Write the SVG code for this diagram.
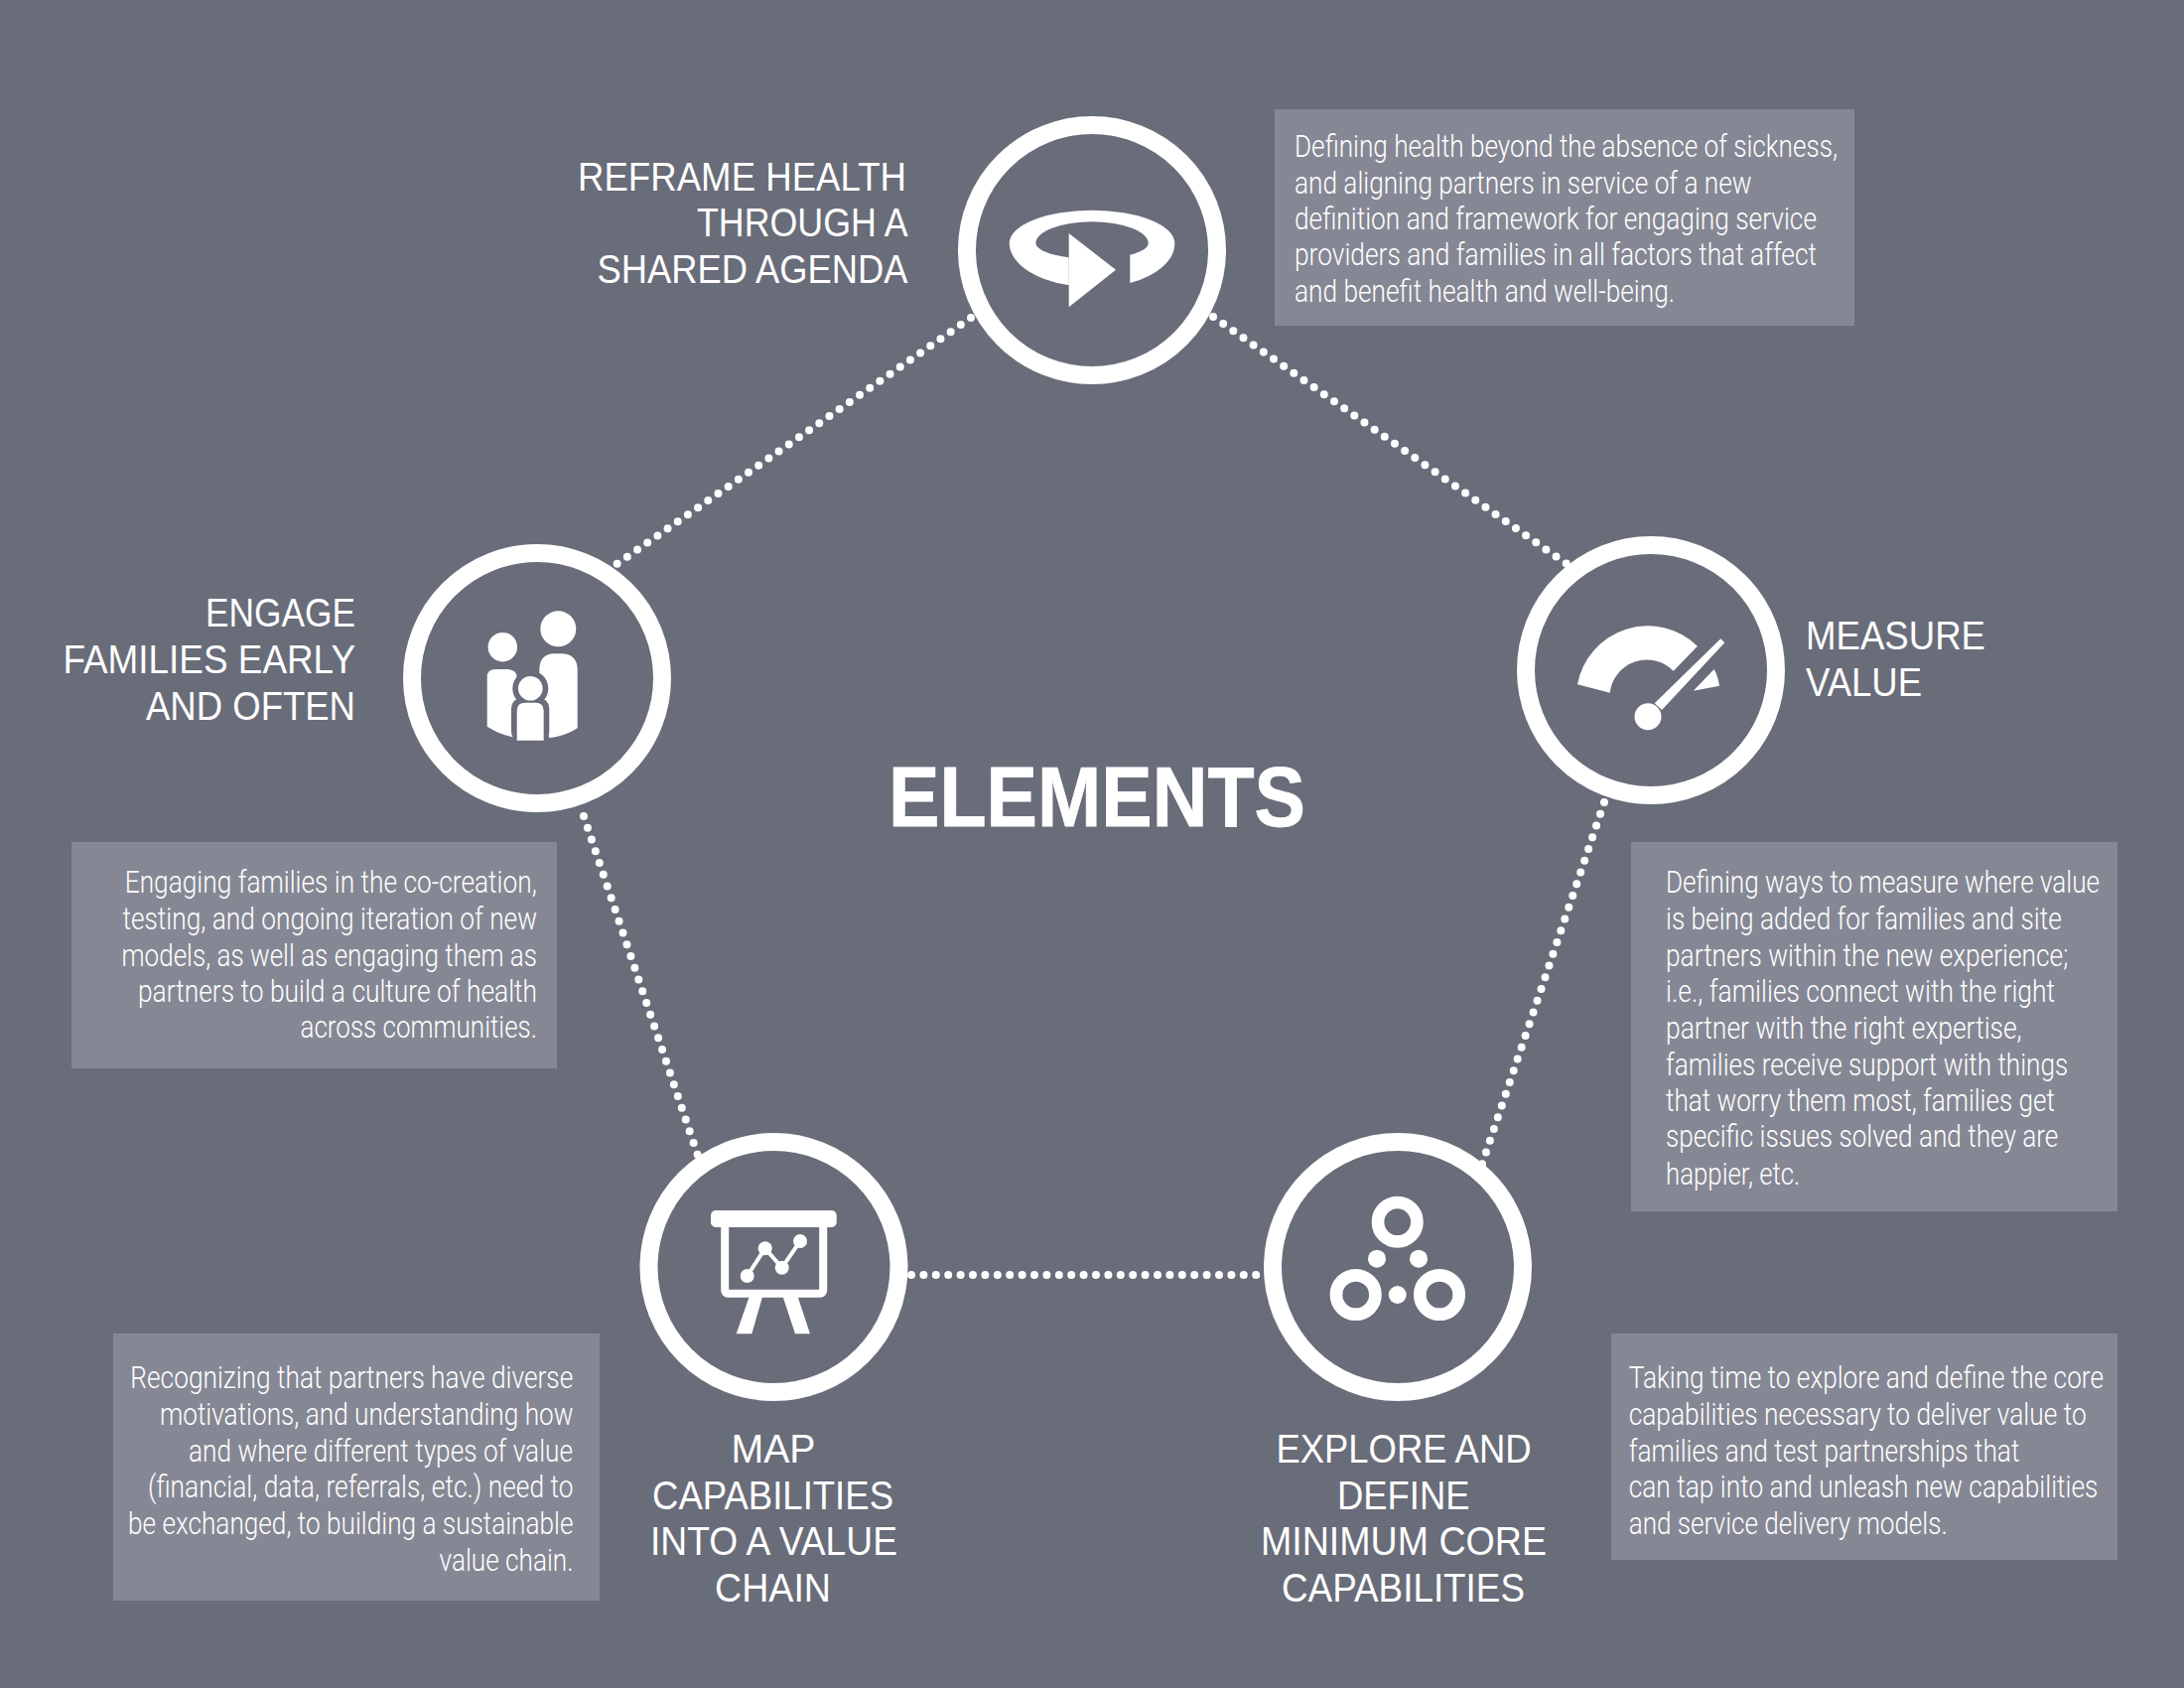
<svg xmlns="http://www.w3.org/2000/svg" width="2200" height="1700" viewBox="0 0 2200 1700">
<style>
.bg{fill:#696c79}
.box{fill:#858894}
.ring{fill:none;stroke:#fff;stroke-width:18}
.ic{fill:#fff}
.dot{fill:none;stroke:#fff;stroke-width:8;stroke-linecap:round;stroke-dasharray:0 12.4}
.b{font-family:Roboto,"Liberation Sans",sans-serif;font-weight:300;font-size:31px;fill:#fff}
.l{font-family:"Liberation Sans",Arial,sans-serif;font-size:40.5px;fill:#fff}
.t{font-family:"Liberation Sans",Arial,sans-serif;font-weight:700;font-size:86px;fill:#fff;stroke:#fff;stroke-width:.8}
</style>
<rect class="bg" width="2200" height="1700"/>
<g id="connectors">
<path class="dot" d="M978 320L617 571"/>
<path class="dot" d="M1222 319L1584 572"/>
<path class="dot" d="M1616 808L1490 1181"/>
<path class="dot" d="M588 822L706 1173"/>
<path class="dot" d="M918 1284H1278"/>
</g>
<text id="title" class="t" x="895" y="832" textLength="420" lengthAdjust="spacingAndGlyphs">ELEMENTS</text>
<g id="node-reframe">
<circle class="ring" cx="1100" cy="252" r="126"/>
<path class="ic" d="M1076.7 287.3A83.3 44.5 0 0 1 1016.7 245A83.3 33.3 0 0 1 1183.3 245A83.3 44.5 0 0 1 1138.3 285V256.7A56.7 16 0 0 0 1156.7 245A56.7 21.7 0 0 0 1043.3 245A56.7 16 0 0 0 1076.7 259.3Z"/>
<polygon class="ic" points="1076.7,235 1124,271.7 1076.7,309.3"/>
<text class="l" x="582" y="192" textLength="331" lengthAdjust="spacingAndGlyphs">REFRAME HEALTH</text>
<text class="l" x="702" y="238" textLength="212.7" lengthAdjust="spacingAndGlyphs">THROUGH A</text>
<text class="l" x="601.5" y="285" textLength="313" lengthAdjust="spacingAndGlyphs">SHARED AGENDA</text>
<rect class="box" x="1284" y="110" width="584" height="218"/>
<text class="b" x="1304" y="158" textLength="547" lengthAdjust="spacingAndGlyphs">Defining health beyond the absence of sickness,</text>
<text class="b" x="1304" y="195" textLength="460.5" lengthAdjust="spacingAndGlyphs">and aligning partners in service of a new</text>
<text class="b" x="1304" y="231" textLength="526" lengthAdjust="spacingAndGlyphs">definition and framework for engaging service</text>
<text class="b" x="1304" y="267" textLength="526" lengthAdjust="spacingAndGlyphs">providers and families in all factors that affect</text>
<text class="b" x="1304" y="304" textLength="383" lengthAdjust="spacingAndGlyphs">and benefit health and well-being.</text>
</g>
<g id="node-engage">
<circle class="ring" cx="541" cy="683" r="126"/>
<circle class="ic" cx="506.3" cy="651.7" r="14.7"/>
<circle class="ic" cx="562.3" cy="633.3" r="18"/>
<path class="ic" d="M490.7 731.7V682Q490.7 674 499 674H512Q520.7 675 520.7 682V743.3Q503 740 490.7 731.7Z"/>
<path class="ic" d="M581.7 733.3V675Q581.7 658.3 565 658.3H556Q543.3 660 543.3 675V700L553.3 743.3Q570 741 581.7 733.3Z"/>
<circle class="bg" cx="534.3" cy="693.3" r="18"/>
<rect class="bg" x="515" y="703" width="38.3" height="44" rx="10"/>
<circle class="ic" cx="534.3" cy="693.3" r="12.3"/>
<path class="ic" d="M520.7 745.7V716Q520.7 707.7 529 707.7H539.5Q547.7 707.7 547.7 716V745.7Z"/>
<text class="l" x="207" y="631" textLength="151" lengthAdjust="spacingAndGlyphs">ENGAGE</text>
<text class="l" x="63.5" y="678" textLength="294.5" lengthAdjust="spacingAndGlyphs">FAMILIES EARLY</text>
<text class="l" x="147" y="725" textLength="211" lengthAdjust="spacingAndGlyphs">AND OFTEN</text>
<rect class="box" x="72" y="848" width="489" height="228"/>
<text class="b" x="125.7" y="899" textLength="415" lengthAdjust="spacingAndGlyphs">Engaging families in the co-creation,</text>
<text class="b" x="123.5" y="936" textLength="417.5" lengthAdjust="spacingAndGlyphs">testing, and ongoing iteration of new</text>
<text class="b" x="122.5" y="973" textLength="418.5" lengthAdjust="spacingAndGlyphs">models, as well as engaging them as</text>
<text class="b" x="139" y="1009" textLength="402" lengthAdjust="spacingAndGlyphs">partners to build a culture of health</text>
<text class="b" x="302.5" y="1045" textLength="238.5" lengthAdjust="spacingAndGlyphs">across communities.</text>
</g>
<g id="node-measure">
<circle class="ring" cx="1663" cy="675" r="126"/>
<path class="ic" d="M1589 689.3A72 72 0 0 1 1710 650.7L1685.7 675.7A37.5 37.5 0 0 0 1621.7 697.7Z"/>
<path class="ic" d="M1705.7 695.7L1726.7 674Q1730.5 681 1732 690.7Z"/>
<circle class="ic" cx="1660" cy="721.7" r="13.5"/>
<polygon class="ic" points="1733.3,643.3 1737.3,647.3 1674,715 1666.7,708.3"/>
<text class="l" x="1819" y="654" textLength="181" lengthAdjust="spacingAndGlyphs">MEASURE</text>
<text class="l" x="1819" y="701" textLength="117" lengthAdjust="spacingAndGlyphs">VALUE</text>
<rect class="box" x="1643" y="848" width="490" height="372"/>
<text class="b" x="1678" y="899" textLength="437" lengthAdjust="spacingAndGlyphs">Defining ways to measure where value</text>
<text class="b" x="1678" y="936" textLength="398.7" lengthAdjust="spacingAndGlyphs">is being added for families and site</text>
<text class="b" x="1678" y="973" textLength="405.3" lengthAdjust="spacingAndGlyphs">partners within the new experience;</text>
<text class="b" x="1678" y="1009" textLength="392" lengthAdjust="spacingAndGlyphs">i.e., families connect with the right</text>
<text class="b" x="1678" y="1046" textLength="358.7" lengthAdjust="spacingAndGlyphs">partner with the right expertise,</text>
<text class="b" x="1678" y="1083" textLength="405.3" lengthAdjust="spacingAndGlyphs">families receive support with things</text>
<text class="b" x="1678" y="1119" textLength="392" lengthAdjust="spacingAndGlyphs">that worry them most, families get</text>
<text class="b" x="1678" y="1155" textLength="395.3" lengthAdjust="spacingAndGlyphs">specific issues solved and they are</text>
<text class="b" x="1678" y="1193" textLength="135.3" lengthAdjust="spacingAndGlyphs">happier, etc.</text>
</g>
<g id="node-map">
<circle class="ring" cx="779.5" cy="1276" r="126"/>
<rect class="ic" x="716" y="1219" width="126.7" height="17" rx="5"/>
<rect x="730.2" y="1232" width="99" height="70.7" rx="3" fill="none" stroke="#fff" stroke-width="8"/>
<polygon class="ic" points="755,1305 768.3,1305 757.3,1343.3 741.7,1343.3"/>
<polygon class="ic" points="788.3,1305 803.3,1305 816,1343.3 801,1343.3"/>
<path d="M752.7 1285L770.7 1257.3L787.7 1276.7L806 1250" fill="none" stroke="#fff" stroke-width="4"/>
<circle class="ic" cx="752.7" cy="1285" r="7"/>
<circle class="ic" cx="770.7" cy="1257.3" r="7"/>
<circle class="ic" cx="787.7" cy="1276.7" r="7"/>
<circle class="ic" cx="806" cy="1250" r="7"/>
<text class="l" x="736.5" y="1473" textLength="85" lengthAdjust="spacingAndGlyphs">MAP</text>
<text class="l" x="657" y="1520" textLength="243" lengthAdjust="spacingAndGlyphs">CAPABILITIES</text>
<text class="l" x="655" y="1566" textLength="249" lengthAdjust="spacingAndGlyphs">INTO A VALUE</text>
<text class="l" x="720" y="1613" textLength="117" lengthAdjust="spacingAndGlyphs">CHAIN</text>
<rect class="box" x="114" y="1343" width="490" height="269"/>
<text class="b" x="131.3" y="1398" textLength="446" lengthAdjust="spacingAndGlyphs">Recognizing that partners have diverse</text>
<text class="b" x="161" y="1435" textLength="416.5" lengthAdjust="spacingAndGlyphs">motivations, and understanding how</text>
<text class="b" x="190" y="1472" textLength="387" lengthAdjust="spacingAndGlyphs">and where different types of value</text>
<text class="b" x="149" y="1508" textLength="428.5" lengthAdjust="spacingAndGlyphs">(financial, data, referrals, etc.) need to</text>
<text class="b" x="129" y="1545" textLength="448.5" lengthAdjust="spacingAndGlyphs">be exchanged, to building a sustainable</text>
<text class="b" x="442.5" y="1582" textLength="135" lengthAdjust="spacingAndGlyphs">value chain.</text>
</g>
<g id="node-explore">
<circle class="ring" cx="1408" cy="1276" r="126"/>
<circle cx="1407.7" cy="1230.7" r="19.7" fill="none" stroke="#fff" stroke-width="12.7"/>
<circle cx="1365.7" cy="1304" r="19.7" fill="none" stroke="#fff" stroke-width="12.7"/>
<circle cx="1450" cy="1304" r="19.7" fill="none" stroke="#fff" stroke-width="12.7"/>
<circle class="ic" cx="1387" cy="1267.7" r="9"/>
<circle class="ic" cx="1429" cy="1267.7" r="9"/>
<circle class="ic" cx="1407.7" cy="1304" r="9"/>
<text class="l" x="1285.5" y="1473" textLength="257" lengthAdjust="spacingAndGlyphs">EXPLORE AND</text>
<text class="l" x="1347" y="1520" textLength="133.5" lengthAdjust="spacingAndGlyphs">DEFINE</text>
<text class="l" x="1270" y="1566" textLength="288" lengthAdjust="spacingAndGlyphs">MINIMUM CORE</text>
<text class="l" x="1291" y="1613" textLength="245" lengthAdjust="spacingAndGlyphs">CAPABILITIES</text>
<rect class="box" x="1623" y="1343" width="510" height="228"/>
<text class="b" x="1640.7" y="1398" textLength="478.3" lengthAdjust="spacingAndGlyphs">Taking time to explore and define the core</text>
<text class="b" x="1640.7" y="1435" textLength="461" lengthAdjust="spacingAndGlyphs">capabilities necessary to deliver value to</text>
<text class="b" x="1640.7" y="1472" textLength="393.7" lengthAdjust="spacingAndGlyphs">families and test partnerships that</text>
<text class="b" x="1640.7" y="1508" textLength="472.7" lengthAdjust="spacingAndGlyphs">can tap into and unleash new capabilities</text>
<text class="b" x="1640.7" y="1545" textLength="321" lengthAdjust="spacingAndGlyphs">and service delivery models.</text>
</g>
</svg>
